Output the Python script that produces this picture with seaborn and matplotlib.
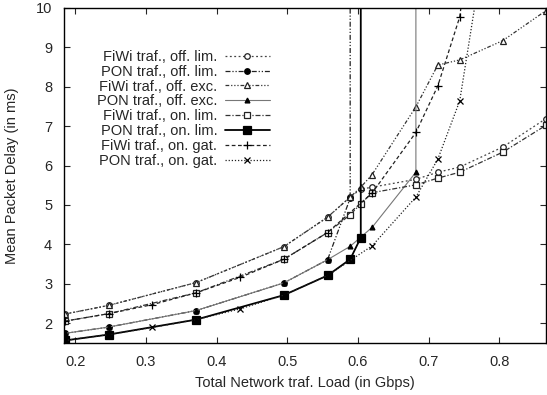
import matplotlib
matplotlib.use("Agg")
import matplotlib.pyplot as plt
import seaborn as sns

# loads (Gbps) at which the runs were made
x_lim = [0.185, 0.247, 0.371, 0.495, 0.557, 0.589, 0.604, 0.62, 0.682, 0.713, 0.744, 0.805, 0.866]
x_gat = [0.185, 0.247, 0.309, 0.371, 0.433, 0.495, 0.557, 0.62, 0.682, 0.713, 0.744, 0.805]

# mean delays (ms); 100 marks an unstable (unbounded) delay
fiwi_off_lim = [2.23, 2.45, 3.03, 3.94, 4.69, 5.20, 5.40, 5.45, 5.65, 5.83, 5.96, 6.47, 7.19]
pon_off_lim_x = [0.185, 0.247, 0.371, 0.495, 0.557, 0.589, 0.589]
pon_off_lim = [1.74, 1.90, 2.32, 3.02, 3.61, 5.17, 100]
fiwi_off_exc = [2.23, 2.45, 3.03, 3.94, 4.69, 5.20, 5.45, 5.77, 7.49, 8.55, 8.68, 9.17, 9.93]
pon_off_exc_x = [0.185, 0.247, 0.371, 0.495, 0.557, 0.589, 0.62, 0.682, 0.682]
pon_off_exc = [1.74, 1.90, 2.32, 3.02, 3.61, 3.95, 4.43, 5.83, 100]
fiwi_on_lim = [2.05, 2.24, 2.77, 3.62, 4.30, 4.75, 5.03, 5.31, 5.51, 5.68, 5.83, 6.34, 7.02]
pon_on_lim_x = [0.185, 0.247, 0.371, 0.495, 0.557, 0.589, 0.604, 0.604]
pon_on_lim = [1.56, 1.71, 2.09, 2.71, 3.21, 3.62, 4.17, 100]
fiwi_on_gat = [2.05, 2.24, 2.47, 2.77, 3.16, 3.62, 4.30, 5.30, 6.84, 8.02, 9.77, 18.0]
pon_on_gat = [1.56, 1.71, 1.89, 2.09, 2.36, 2.71, 3.21, 3.96, 5.20, 6.16, 7.64, 14.5]

sns.set_style("ticks")
plt.rcParams['font.family'] = ['Liberation Sans', 'DejaVu Sans']

fig, ax = plt.subplots(figsize=(5.47, 3.95), dpi=100)
fig.subplots_adjust(left=0.117, right=0.998, top=0.98, bottom=0.132)

series = [
    ("FiWi traf., off. lim.", x_lim, fiwi_off_lim, dict(color="#444444", linestyle=(0, (1.5, 2)), marker="o", ms=4, mfc="white", mec="#222222", lw=0.9)),
    ("PON traf., off. lim.", pon_off_lim_x, pon_off_lim, dict(color="#222222", linestyle=(0, (4, 1.5, 1, 1.5, 1, 1.5)), marker="o", ms=4, mfc="black", mec="black", lw=0.9)),
    ("FiWi traf., off. exc.", x_lim, fiwi_off_exc, dict(color="#333333", linestyle=(0, (3, 1.5, 1, 1.5, 1, 1.5, 1, 1.5)), marker="^", ms=4.5, mfc="white", mec="#222222", lw=0.9)),
    ("PON traf., off. exc.", pon_off_exc_x, pon_off_exc, dict(color="#777777", linestyle="-", marker="^", ms=3.5, mfc="black", mec="black", lw=0.8)),
    ("FiWi traf., on. lim.", x_lim, fiwi_on_lim, dict(color="#333333", linestyle=(0, (4, 1.5, 1, 1.5)), marker="s", ms=4, mfc="white", mec="#222222", lw=0.9)),
    ("PON traf., on. lim.", pon_on_lim_x, pon_on_lim, dict(color="black", linestyle="-", marker="s", ms=6, mfc="black", mec="black", lw=1.3)),
    ("FiWi traf., on. gat.", x_gat, fiwi_on_gat, dict(color="#222222", linestyle=(0, (3, 2)), marker="+", ms=6, mfc="black", mec="black", lw=0.9)),
    ("PON traf., on. gat.", x_gat, pon_on_gat, dict(color="#222222", linestyle=(0, (1, 1.5)), marker="x", ms=5, mfc="black", mec="black", lw=0.9)),
]

for label, xs, ys, style in series:
    sns.lineplot(x=xs, y=ys, ax=ax, label=label, sort=False, estimator=None,
                 markeredgewidth=0.9, **style)

ax.set_xlim(0.184, 0.866)
ax.set_ylim(1.5, 10)
ax.set_xticks([0.2, 0.3, 0.4, 0.5, 0.6, 0.7, 0.8])
ax.set_yticks(range(2, 11))
ax.tick_params(direction="in", length=4, width=0.8, top=True, right=True, labelsize=10.5, pad=8.5)
for sp in ax.spines.values():
    sp.set_linewidth(1.0)
    sp.set_color("black")

ax.set_xlabel("Total Network traf. Load (in Gbps)", fontsize=10.5, labelpad=5)
ax.set_ylabel("Mean Packet Delay (in ms)", fontsize=10.5, labelpad=12)

leg = ax.legend(loc="upper right", bbox_to_anchor=(0.427, 0.875), markerfirst=False,
                frameon=False, fontsize=10.5, labelspacing=0.06, handlelength=3.1,
                handletextpad=0.5, borderpad=0, borderaxespad=0)

fig.savefig("out.png", dpi=100)
